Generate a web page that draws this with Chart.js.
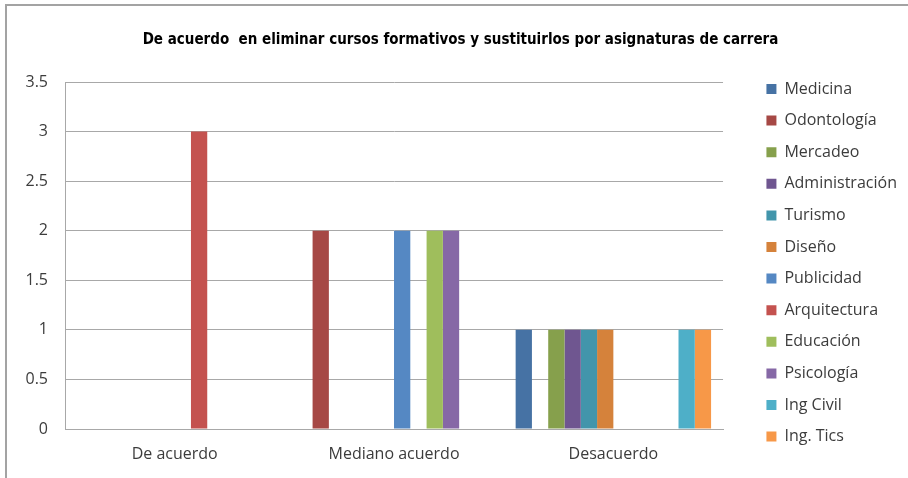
<!DOCTYPE html>
<html lang="es">
<head>
<meta charset="utf-8">
<title>De acuerdo en eliminar cursos formativos</title>
<script src="https://cdn.jsdelivr.net/npm/chart.js@4.4.1/dist/chart.umd.min.js"></script>
<style>
    html, body { margin: 0; padding: 0; background: #ffffff; }
    #wrap { position: relative; width: 908px; height: 478px; }
    #frame {
        position: absolute; left: 5px; top: 4px; right: 0; bottom: 0;
        border-top: 2px solid #a3a3a3; border-left: 2px solid #a3a3a3;
        pointer-events: none;
    }
</style>
</head>
<body>
<div id="wrap">
    <canvas id="chart" width="908" height="478"></canvas>
    <div id="frame"></div>
</div>
<script>
// categorias del eje x
const categorias = ['De acuerdo', 'Mediano acuerdo', 'Desacuerdo'];

// valores por carrera (De acuerdo, Mediano acuerdo, Desacuerdo)
const medicina       = [0, 0, 1];
const odontologia    = [0, 2, 0];
const mercadeo       = [0, 0, 1];
const administracion = [0, 0, 1];
const turismo        = [0, 0, 1];
const diseno         = [0, 0, 1];
const publicidad     = [0, 2, 0];
const arquitectura   = [3, 0, 0];
const educacion      = [0, 2, 0];
const psicologia     = [0, 2, 0];
const ingCivil       = [0, 0, 1];
const ingTics        = [0, 0, 1];

const yTicks = [0, 0.5, 1, 1.5, 2, 2.5, 3, 3.5];

const series = [
    { label: 'Medicina',       data: medicina,       color: '#4672a4' },
    { label: 'Odontología',    data: odontologia,    color: '#a64845' },
    { label: 'Mercadeo',       data: mercadeo,       color: '#86a04c' },
    { label: 'Administración', data: administracion, color: '#6f5690' },
    { label: 'Turismo',        data: turismo,        color: '#4295ab' },
    { label: 'Diseño',         data: diseno,         color: '#d5823b' },
    { label: 'Publicidad',     data: publicidad,     color: '#5588c3' },
    { label: 'Arquitectura',   data: arquitectura,   color: '#c4524f' },
    { label: 'Educación',      data: educacion,      color: '#9fbe5c' },
    { label: 'Psicología',     data: psicologia,     color: '#8668a6' },
    { label: 'Ing Civil',      data: ingCivil,       color: '#4eafc8' },
    { label: 'Ing. Tics',      data: ingTics,        color: '#f79848' }
];

const gridColor = '#a8a8a8';
const textColor = '#3c3c3c';
const textFont = { family: "'Open Sans', sans-serif", size: 16 };

const ctx = document.getElementById('chart').getContext('2d');

new Chart(ctx, {
    type: 'bar',
    data: {
        labels: categorias,
        datasets: series.map(s => ({
            label: s.label,
            data: s.data,
            backgroundColor: s.color,
            borderWidth: 0,
            barPercentage: 1,
            categoryPercentage: 0.891
        }))
    },
    options: {
        responsive: false,
        animation: false,
        layout: {
            padding: { left: 25, right: 12, top: 6, bottom: 9 }
        },
        scales: {
            x: {
                grid: { display: false, drawTicks: false },
                border: { display: true, color: gridColor },
                ticks: {
                    color: textColor,
                    padding: 16,
                    font: textFont
                },
                afterFit: s => { s.height = 40; }
            },
            y: {
                min: 0,
                max: 3.5,
                afterBuildTicks: s => { s.ticks = yTicks.map(v => ({ value: v })); },
                grid: { color: gridColor, drawTicks: false },
                border: { display: true, color: gridColor },
                ticks: {
                    color: textColor,
                    padding: 17,
                    font: textFont,
                    callback: v => String(v)
                },
                afterFit: s => { s.width = 40; }
            },
            // eje vacio para dejar espacio entre el grafico y la leyenda
            hueco: {
                type: 'linear',
                position: 'right',
                display: true,
                grid: { display: false },
                border: { display: false },
                ticks: { display: false },
                afterFit: s => { s.width = 27.8; }
            }
        },
        plugins: {
            title: {
                display: true,
                text: 'De acuerdo  en eliminar cursos formativos y sustituirlos por asignaturas de carrera',
                color: '#000000',
                font: { family: "'Liberation Sans Narrow', 'DejaVu Sans Condensed', sans-serif", size: 15, weight: 'bold' },
                padding: { top: 25, bottom: 33 }
            },
            legend: {
                position: 'right',
                align: 'start',
                title: {
                    display: true,
                    text: '',
                    font: { size: 1 },
                    padding: { top: 58.2, bottom: 0 }
                },
                labels: {
                    boxWidth: 10,
                    boxHeight: 10,
                    padding: 15.6,
                    color: textColor,
                    font: textFont
                }
            },
            tooltip: { enabled: false }
        }
    }
});
</script>
</body>
</html>
